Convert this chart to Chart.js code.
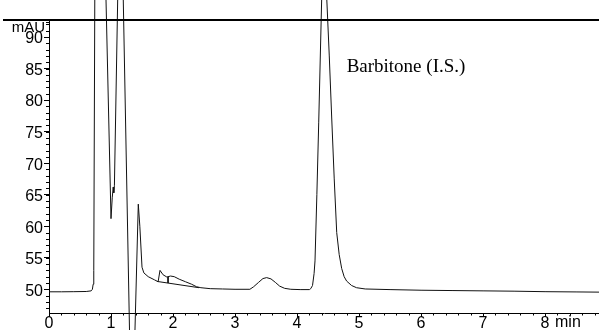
<!DOCTYPE html>
<html>
<head>
<meta charset="utf-8">
<script src="https://cdn.jsdelivr.net/npm/chart.js@4/dist/chart.umd.min.js"></script>
<style>
html,body{margin:0;padding:0;background:#fff;}
#wrap{width:599px;height:330px;position:relative;}
</style>
</head>
<body>
<div id="wrap"><canvas id="c"></canvas></div>
<script>
// retention time (min)
const times = [0, 0.2, 0.4, 0.6, 0.68, 0.70, 0.712, 0.722, 0.74, 0.82, 0.90, 0.91, 1.0, 1.02, 1.035, 1.045, 1.055, 1.115, 1.15, 1.19, 1.305, 1.35, 1.385, 1.44, 1.465, 1.50, 1.53, 1.60, 1.70, 1.76, 1.79, 1.84, 1.90, 1.96, 2.02, 2.10, 2.20, 2.30, 2.38, 2.45, 2.60, 2.80, 3.00, 3.24, 3.30, 3.38, 3.45, 3.51, 3.58, 3.65, 3.72, 3.80, 3.90, 4.05, 4.20, 4.221, 4.25, 4.275, 4.29, 4.32, 4.35, 4.40, 4.44, 4.48, 4.52, 4.56, 4.60, 4.64, 4.68, 4.72, 4.76, 4.80, 4.88, 4.96, 5.10, 5.50, 6.00, 6.50, 7.00, 7.50, 8.00, 8.50, 8.87];
// detector signal (mAU)
const signal = [49.6, 49.6, 49.62, 49.65, 49.75, 50.0, 50.8, 53, 100, 160, 150, 100, 61.2, 64.5, 66.2, 65.3, 66.5, 100, 130, 100, 40, 35, 43, 63.5, 60.0, 53.5, 52.6, 52.0, 51.5, 51.2, 53.0, 52.3, 51.95, 52.1, 52.0, 51.6, 51.2, 50.8, 50.4, 50.25, 50.1, 50.05, 50.0, 50.0, 50.4, 51.1, 51.7, 51.85, 51.65, 51.1, 50.5, 50.15, 50.0, 49.95, 49.95, 50.1, 50.6, 52.5, 54.5, 65, 76.5, 97, 180, 96, 87, 77, 67.5, 59, 55.5, 53.3, 52.0, 51.3, 50.6, 50.25, 50.05, 49.95, 49.85, 49.8, 49.75, 49.7, 49.62, 49.58, 49.55];
// integration baseline and drop line
const baseTimes = [1.74, 2.42];
const baseValues = [51.25, 50.25];
const dropTimes = [1.92, 1.92];
const dropValues = [51.95, 50.99];
// axes
const xTicks = [0, 1, 2, 3, 4, 5, 6, 7, 8];
const yTicks = [50, 55, 60, 65, 70, 75, 80, 85, 90];
const xRange = [0, 8.87];
const yRange = [46.24, 92.7];
const yUnit = 'mAU';
const xUnit = 'min';
const peakLabel = 'Barbitone (I.S.)';
const peakLabelPos = [4.80, 84.4];

const pts = (xs, ys) => xs.map((x, i) => ({x: x, y: ys[i]}));

const decor = {
  id: 'decor',
  afterDraw(chart) {
    const ctx = chart.ctx, ca = chart.chartArea;
    const xs = chart.scales.x, ys = chart.scales.y;
    ctx.save();
    // top frame line
    ctx.strokeStyle = '#000';
    ctx.lineWidth = 2;
    ctx.beginPath();
    ctx.moveTo(3, ca.top);
    ctx.lineTo(chart.width, ca.top);
    ctx.stroke();
    // minor ticks
    ctx.lineWidth = 1;
    ctx.beginPath();
    for (let k = 0; k <= Math.round(xRange[1] * 5); k++) {
      const px = Math.round(xs.getPixelForValue(k / 5)) + 0.5;
      ctx.moveTo(px, ca.bottom);
      ctx.lineTo(px, ca.bottom + 2.5);
    }
    for (let v = Math.ceil(yRange[0]); v <= Math.floor(yRange[1]); v++) {
      const py = Math.round(ys.getPixelForValue(v)) + 0.5;
      ctx.moveTo(ca.left - 3, py);
      ctx.lineTo(ca.left, py);
    }
    // small hook on top of y axis
    ctx.moveTo(ca.left - 3, ca.top + 2.5);
    ctx.lineTo(ca.left, ca.top + 2.5);
    ctx.stroke();
    // texts
    ctx.fillStyle = '#000';
    ctx.font = '15px "Liberation Sans", Arial, sans-serif';
    ctx.textAlign = 'right';
    ctx.textBaseline = 'alphabetic';
    ctx.fillText(yUnit, ca.left - 4, ca.top + 12);
    ctx.textAlign = 'left';
    ctx.font = '16px "Liberation Sans", Arial, sans-serif';
    ctx.fillText(xUnit, ca.right - 44, ca.bottom + 14);
    ctx.font = '19px "Liberation Serif", "Times New Roman", serif';
    ctx.fillText(peakLabel, xs.getPixelForValue(peakLabelPos[0]), ys.getPixelForValue(peakLabelPos[1]));
    ctx.restore();
  }
};

new Chart(document.getElementById('c'), {
  type: 'line',
  data: {
    datasets: [
      {data: pts(times, signal), borderColor: '#111', borderWidth: 1, pointRadius: 0, tension: 0, clip: false},
      {data: pts(baseTimes, baseValues), borderColor: '#111', borderWidth: 1, pointRadius: 0, tension: 0, clip: false},
      {data: pts(dropTimes, dropValues), borderColor: '#111', borderWidth: 1, pointRadius: 0, tension: 0, clip: false}
    ]
  },
  options: {
    responsive: true,
    maintainAspectRatio: false,
    animation: false,
    devicePixelRatio: 1,
    layout: {padding: {top: 20, left: 0, right: 0, bottom: 0}},
    plugins: {legend: {display: false}, tooltip: {enabled: false}},
    scales: {
      x: {
        type: 'linear',
        min: xRange[0], max: xRange[1],
        afterFit: s => { s.height = 17; },
        afterBuildTicks: s => { s.ticks = xTicks.map(v => ({value: v})); },
        grid: {display: true, drawOnChartArea: false, tickLength: 4, color: '#000', lineWidth: 1},
        border: {display: true, color: '#000', width: 1},
        ticks: {color: '#000', padding: -3, maxRotation: 0, autoSkip: false,
          font: {family: '"Liberation Sans", Arial, sans-serif', size: 16}}
      },
      y: {
        type: 'linear',
        min: yRange[0], max: yRange[1],
        afterFit: s => { s.width = 49; },
        afterBuildTicks: s => { s.ticks = yTicks.map(v => ({value: v})); },
        grid: {display: true, drawOnChartArea: false, tickLength: 5, color: '#000', lineWidth: 1},
        border: {display: true, color: '#000', width: 1},
        ticks: {color: '#000', padding: 1, labelOffset: 2, autoSkip: false,
          font: {family: '"Liberation Sans", Arial, sans-serif', size: 16}}
      }
    }
  },
  plugins: [decor]
});
</script>
</body>
</html>
